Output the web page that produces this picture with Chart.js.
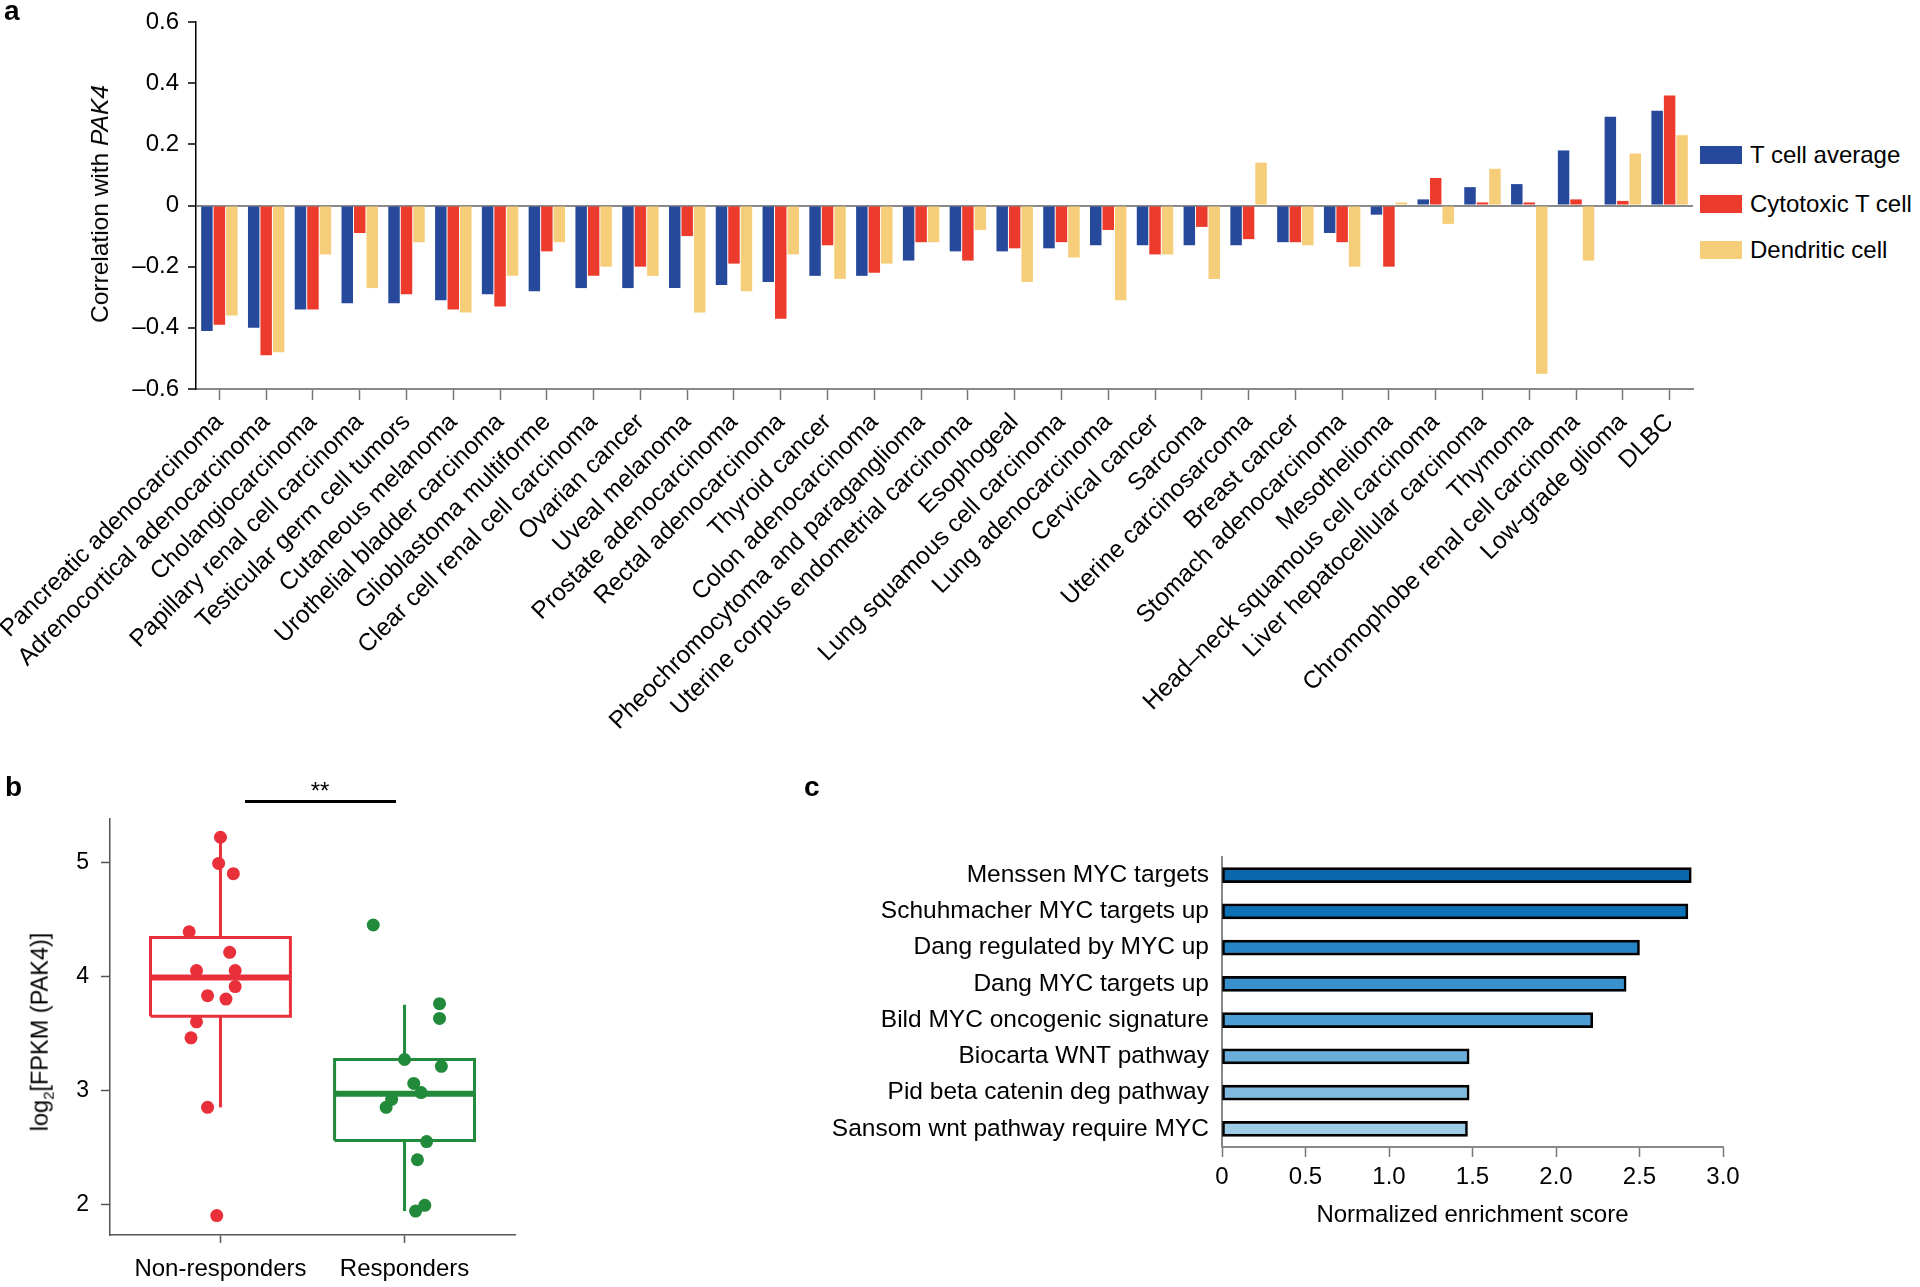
<!DOCTYPE html>
<html><head><meta charset="utf-8">
<script src="https://cdn.jsdelivr.net/npm/chart.js@4.4.1/dist/chart.umd.min.js"></script>
<style>
body{margin:0;width:1920px;height:1287px;background:#fff;position:relative;overflow:hidden;font-family:"Liberation Sans",Arial,Helvetica,sans-serif;color:#000}
canvas{position:absolute}
.letter{position:absolute;font-weight:bold;font-size:28px;line-height:28px;font-family:"Liberation Sans",Arial,sans-serif}
.rot{position:absolute;white-space:nowrap;transform:translate(-50%,-50%) rotate(-90deg);font-size:24px;line-height:28px}
.leg{position:absolute;left:1700px;height:30px;display:flex;align-items:center;font-size:24px;white-space:nowrap}
.leg span.box{display:inline-block;width:42px;height:18px;margin-right:8px}
</style></head>
<body>
<canvas id="ca" width="1700" height="760" style="left:0;top:0"></canvas>
<canvas id="cb" width="540" height="507" style="left:0;top:780px"></canvas>
<canvas id="cc" width="1000" height="450" style="left:780px;top:780px"></canvas>

<div class="letter" style="left:4px;top:-3px">a</div>
<div class="letter" style="left:5px;top:773px">b</div>
<div class="letter" style="left:804px;top:773px">c</div>

<div class="rot" style="left:100px;top:204px;font-size:24.5px">Correlation with <i>PAK4</i></div>
<div class="rot" style="left:44px;top:1032px;font-size:23.5px">log<sub style="font-size:15px">2</sub>[FPKM (PAK4)]</div>

<div id="legendA"></div>

<div style="position:absolute;left:245px;top:800px;width:151px;height:3px;background:#000"></div>
<div style="position:absolute;left:270px;top:777px;width:100px;text-align:center;font-size:24px;line-height:28px">**</div>

<script>
// ---------- Panel a data ----------
const cancerTypes = [
  'Pancreatic adenocarcinoma','Adrenocortical adenocarcinoma','Cholangiocarcinoma',
  'Papillary renal cell carcinoma','Testicular germ cell tumors','Cutaneous melanoma',
  'Urothelial bladder carcinoma','Glioblastoma multiforme','Clear cell renal cell carcinoma',
  'Ovarian cancer','Uveal melanoma','Prostate adenocarcinoma','Rectal adenocarcinoma',
  'Thyroid cancer','Colon adenocarcinoma','Pheochromocytoma and paraganglioma',
  'Uterine corpus endometrial carcinoma','Esophogeal','Lung squamous cell carcinoma',
  'Lung adenocarcinoma','Cervical cancer','Sarcoma','Uterine carcinosarcoma','Breast cancer',
  'Stomach adenocarcinoma','Mesothelioma','Head\u2013neck squamous cell carcinoma',
  'Liver hepatocellular carcinoma','Thymoma','Chromophobe renal cell carcinoma',
  'Low-grade glioma','DLBC'];
const tCellAverage = [-0.41,-0.40,-0.34,-0.32,-0.32,-0.31,-0.29,-0.28,-0.27,-0.27,-0.27,-0.26,-0.25,-0.23,-0.23,-0.18,-0.15,-0.15,-0.14,-0.13,-0.13,-0.13,-0.13,-0.12,-0.09,-0.03,0.02,0.06,0.07,0.18,0.29,0.31];
const cytotoxicTCell = [-0.39,-0.49,-0.34,-0.09,-0.29,-0.34,-0.33,-0.15,-0.23,-0.20,-0.10,-0.19,-0.37,-0.13,-0.22,-0.12,-0.18,-0.14,-0.12,-0.08,-0.16,-0.07,-0.11,-0.12,-0.12,-0.20,0.09,0.01,0.01,0.02,0.015,0.36];
const dendriticCell = [-0.36,-0.48,-0.16,-0.27,-0.12,-0.35,-0.23,-0.12,-0.20,-0.23,-0.35,-0.28,-0.16,-0.24,-0.19,-0.12,-0.08,-0.25,-0.17,-0.31,-0.16,-0.24,0.14,-0.13,-0.20,0.01,-0.06,0.12,-0.55,-0.18,0.17,0.23];
const seriesNamesA = ['T cell average','Cytotoxic T cell','Dendritic cell'];
const yTicksA = [-0.6,-0.4,-0.2,0,0.2,0.4,0.6];

// ---------- Panel b data ----------
const groupNamesB = ['Non-responders','Responders'];
const nonRespX = [1.00,0.99,1.07,0.83,1.05,0.87,1.08,1.08,0.93,1.03,0.87,0.84,0.93,0.98];
const nonRespY = [5.22,4.99,4.90,4.39,4.21,4.05,4.05,3.91,3.83,3.80,3.60,3.46,2.85,1.90];
const respX = [1.83,2.19,2.19,2.00,2.20,2.05,2.09,1.93,1.90,2.12,2.07,2.11,2.06];
const respY = [4.45,3.76,3.63,3.27,3.21,3.06,2.98,2.92,2.85,2.55,2.39,1.99,1.94];
// box statistics: [whiskerLow, q1, median, q3, whiskerHigh]
const nonRespBox = [2.85,3.65,3.99,4.34,5.22];
const respBox = [1.94,2.56,2.97,3.27,3.75];
const yTicksB = [2,3,4,5];

// ---------- Panel c data ----------
const pathways = ['Menssen MYC targets','Schuhmacher MYC targets up','Dang regulated by MYC up',
  'Dang MYC targets up','Bild MYC oncogenic signature','Biocarta WNT pathway',
  'Pid beta catenin deg pathway','Sansom wnt pathway require MYC'];
const nesValues = [2.81,2.79,2.50,2.42,2.22,1.48,1.48,1.47];
const xTicksC = [0,0.5,1.0,1.5,2.0,2.5,3.0];

// ---------- styles ----------
const FONT = '"Liberation Sans", Arial, Helvetica, sans-serif';
const colorsA = ['#26499b','#ec3a2c','#f6cd78'];
const barColorsC = ['#0a67ab','#0c71b6','#2585c6','#3890cc','#4d9dd5','#6badda','#80badf','#9ecbe6'];
const RED_B = '#e9303a', GREEN_B = '#218a3b';
const BOX_HALF = 0.38;

Chart.defaults.font.family = FONT;
Chart.defaults.color = '#000';

const fmtA = v => Math.abs(v) < 1e-9 ? '0' : (v < 0 ? '\u2013' : '') + Math.abs(v).toFixed(1);

// legend (HTML) for panel a
const legTops = [140,189,235];
document.getElementById('legendA').innerHTML = seriesNamesA.map((n,i)=>
  `<div class="leg" style="top:${legTops[i]}px"><span class="box" style="background:${colorsA[i]}"></span>${n}</div>`).join('');

// ---------- Chart a ----------
new Chart(document.getElementById('ca'), {
  type: 'bar',
  data: {
    labels: cancerTypes,
    datasets: [tCellAverage, cytotoxicTCell, dendriticCell].map((d,i)=>({
      label: seriesNamesA[i], data: d, backgroundColor: colorsA[i],
      categoryPercentage: 0.8, barPercentage: 0.92
    }))
  },
  options: {
    responsive: false, animation: false,
    layout: { padding: { top: 22, right: 7, left: 0, bottom: 0 } },
    plugins: { legend: { display: false }, tooltip: { enabled: false } },
    scales: {
      x: {
        offset: true,
        grid: { offset: false, drawOnChartArea: false, tickLength: 11, tickColor: '#777', tickWidth: 1.5 },
        border: { color: '#888', width: 2 },
        ticks: { font: { size: 24.5 }, color: '#000', minRotation: 45, maxRotation: 45, autoSkip: false, padding: 8 },
        afterFit: s => { s.height = 371; s.paddingLeft = 0; s.paddingRight = 0; }
      },
      y: {
        min: -0.6, max: 0.6,
        afterBuildTicks: s => { s.ticks = yTicksA.map(v => ({ value: v })); },
        grid: { color: c => Math.abs(c.tick.value) < 1e-9 ? '#8a8a8a' : 'rgba(0,0,0,0)', lineWidth: 2, tickColor: '#000', tickLength: 8, tickWidth: 1.5 },
        border: { color: '#000', width: 1.5 },
        ticks: { font: { size: 24 }, color: '#000', padding: 9, callback: v => fmtA(v) },
        afterFit: s => { s.width = 196; s.paddingTop = 0; s.paddingBottom = 0; }
      }
    }
  }
});

// ---------- Chart b ----------
function boxDatasets(cx, st, color) {
  const [lo, q1, med, q3, hi] = st;
  const line = (pts, w) => ({ data: pts, showLine: true, pointRadius: 0, borderColor: color, borderWidth: w, order: 2, borderJoinStyle: 'miter' });
  return [
    line([{x:cx-BOX_HALF,y:q1},{x:cx+BOX_HALF,y:q1},{x:cx+BOX_HALF,y:q3},{x:cx-BOX_HALF,y:q3},{x:cx-BOX_HALF,y:q1}], 3),
    line([{x:cx-BOX_HALF,y:med},{x:cx+BOX_HALF,y:med}], 6),
    line([{x:cx,y:q3},{x:cx,y:hi}], 3),
    line([{x:cx,y:lo},{x:cx,y:q1}], 3)
  ];
}
new Chart(document.getElementById('cb'), {
  type: 'scatter',
  data: {
    datasets: [
      { data: nonRespX.map((x,i)=>({x, y: nonRespY[i]})), pointRadius: 6.5, pointBackgroundColor: RED_B, pointBorderWidth: 0, order: 1 },
      { data: respX.map((x,i)=>({x, y: respY[i]})), pointRadius: 6.5, pointBackgroundColor: GREEN_B, pointBorderWidth: 0, order: 1 },
      ...boxDatasets(1, nonRespBox, RED_B),
      ...boxDatasets(2, respBox, GREEN_B)
    ]
  },
  options: {
    responsive: false, animation: false,
    layout: { padding: { top: 39, right: 25, left: 0, bottom: 0 } },
    plugins: { legend: { display: false }, tooltip: { enabled: false } },
    scales: {
      x: {
        type: 'linear', min: 0.4, max: 2.6,
        afterBuildTicks: s => { s.ticks = [{value:1},{value:2}]; },
        grid: { drawOnChartArea: false, tickLength: 8, tickColor: '#555', tickWidth: 1.5 },
        border: { color: '#555', width: 1.5 },
        ticks: { font: { size: 24 }, color: '#000', padding: 12, callback: v => groupNamesB[v-1] },
        afterFit: s => { s.height = 52; }
      },
      y: {
        min: 1.73, max: 5.38,
        afterBuildTicks: s => { s.ticks = yTicksB.map(v => ({ value: v })); },
        grid: { drawOnChartArea: false, tickLength: 9, tickColor: '#555', tickWidth: 1.5 },
        border: { color: '#555', width: 1.5 },
        ticks: { font: { size: 23 }, color: '#000', padding: 12, callback: v => String(v) },
        afterFit: s => { s.width = 110; }
      }
    }
  }
});

// ---------- Chart c ----------
new Chart(document.getElementById('cc'), {
  type: 'bar',
  data: {
    labels: pathways,
    datasets: [{ data: nesValues, backgroundColor: barColorsC, borderColor: '#000', borderWidth: 2.6, borderSkipped: false, barThickness: 15 }]
  },
  options: {
    indexAxis: 'y',
    responsive: false, animation: false,
    layout: { padding: { top: 77, right: 57, left: 0, bottom: 0 } },
    plugins: { legend: { display: false }, tooltip: { enabled: false } },
    scales: {
      x: {
        min: 0, max: 3,
        afterBuildTicks: s => { s.ticks = xTicksC.map(v => ({ value: v })); },
        grid: { drawOnChartArea: false, tickLength: 10, tickColor: '#777', tickWidth: 1.5 },
        border: { color: '#888', width: 2 },
        ticks: { font: { size: 24 }, color: '#000', padding: 6, callback: v => v === 0 ? '0' : v.toFixed(1) },
        title: { display: true, text: 'Normalized enrichment score', font: { size: 24 }, color: '#000', padding: 0 },
        afterFit: s => { s.height = 83; }
      },
      y: {
        grid: { drawOnChartArea: false, drawTicks: false },
        border: { color: '#888', width: 2 },
        ticks: { font: { size: 24.5 }, color: '#000', padding: 13 },
        afterFit: s => { s.width = 442; }
      }
    }
  }
});
</script>
</body></html>
